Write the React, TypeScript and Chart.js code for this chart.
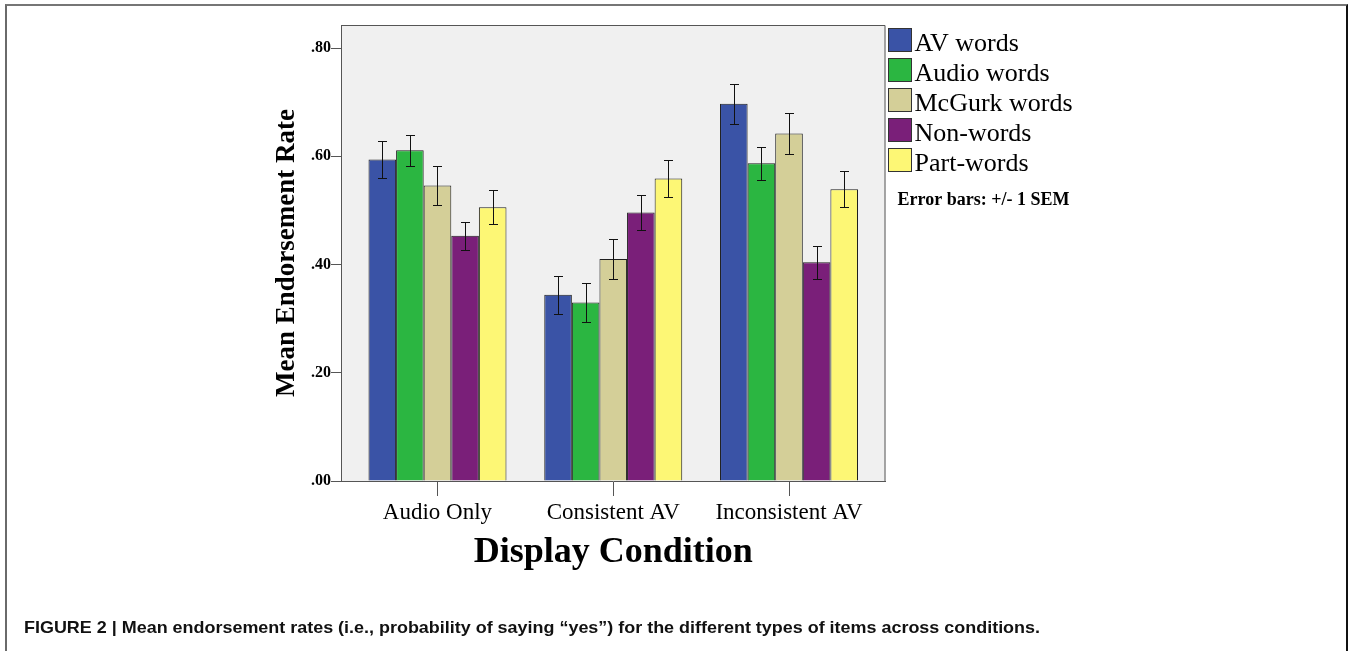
import React, { useEffect, useRef } from 'react';
import { Chart, registerables } from 'chart.js';

Chart.register(...registerables);

// ---------- data ----------
const categories = ['Audio Only', 'Consistent AV', 'Inconsistent AV'];
const seriesNames = ['AV words', 'Audio words', 'McGurk words', 'Non-words', 'Part-words'];

const avWords = [0.594, 0.344, 0.697];
const audioWords = [0.611, 0.330, 0.587];
const mcgurkWords = [0.546, 0.410, 0.642];
const nonWords = [0.453, 0.496, 0.404];
const partWords = [0.506, 0.559, 0.539];

const avWordsSem = [0.035, 0.035, 0.037];
const audioWordsSem = [0.029, 0.036, 0.031];
const mcgurkWordsSem = [0.036, 0.037, 0.037];
const nonWordsSem = [0.026, 0.032, 0.031];
const partWordsSem = [0.031, 0.034, 0.033];

const yTickValues = [0, 0.2, 0.4, 0.6, 0.8];

const seriesMeans = [avWords, audioWords, mcgurkWords, nonWords, partWords];
const seriesSems = [avWordsSem, audioWordsSem, mcgurkWordsSem, nonWordsSem, partWordsSem];
const seriesColors = ['#3a53a6', '#2bb641', '#d4cf98', '#7a1f79', '#fdf775'];

const SERIF = '"Liberation Serif", "Times New Roman", Times, serif';

const decorPlugin = {
  id: 'spssDecor',
  beforeDraw(chart: any) {
    const { ctx, chartArea: a } = chart;
    ctx.save();
    ctx.fillStyle = '#f0f0f0';
    ctx.fillRect(a.left, a.top, a.right - a.left, a.bottom - a.top);
    ctx.restore();
  },
  afterDatasetsDraw(chart: any) {
    const { ctx, chartArea: a } = chart;
    const yScale = chart.scales.y;
    ctx.save();
    ctx.strokeStyle = '#111';
    ctx.lineWidth = 1;
    chart.data.datasets.forEach((ds: any, di: number) => {
      const meta = chart.getDatasetMeta(di);
      meta.data.forEach((bar: any, i: number) => {
        const m = ds.data[i].y;
        const e = ds.sem[i];
        const x = Math.round(bar.x) + 0.5;
        const yHi = Math.round(yScale.getPixelForValue(m + e)) + 0.5;
        const yLo = Math.round(yScale.getPixelForValue(m - e)) + 0.5;
        ctx.beginPath();
        ctx.moveTo(x, yHi);
        ctx.lineTo(x, yLo);
        ctx.moveTo(x - 4.5, yHi);
        ctx.lineTo(x + 4.5, yHi);
        ctx.moveTo(x - 4.5, yLo);
        ctx.lineTo(x + 4.5, yLo);
        ctx.stroke();
      });
    });
    ctx.strokeStyle = '#555';
    ctx.beginPath();
    ctx.moveTo(a.left, a.top + 0.5);
    ctx.lineTo(a.right - 0.5, a.top + 0.5);
    ctx.lineTo(a.right - 0.5, a.bottom);
    ctx.stroke();
    ctx.restore();
  },
  afterDraw(chart: any) {
    const { ctx, chartArea: a } = chart;
    ctx.save();
    const x0 = Math.round(a.right) + 2.5;
    const y0 = a.top + 3.5;
    chart.data.datasets.forEach((ds: any, i: number) => {
      const yy = y0 + i * 30;
      ctx.fillStyle = ds.backgroundColor;
      ctx.fillRect(x0, yy, 23, 23);
      ctx.strokeStyle = '#333';
      ctx.lineWidth = 1;
      ctx.strokeRect(x0, yy, 23, 23);
      ctx.fillStyle = '#000';
      ctx.font = `26px ${SERIF}`;
      ctx.textBaseline = 'alphabetic';
      ctx.textAlign = 'left';
      ctx.fillText(ds.label, x0 + 26, yy + 22);
    });
    ctx.font = `bold 18px ${SERIF}`;
    ctx.fillStyle = '#000';
    ctx.fillText('Error bars: +/- 1 SEM', a.right + 12, 205);
    ctx.restore();
  },
};

export default function App() {
  const ref = useRef<HTMLCanvasElement>(null);

  useEffect(() => {
    const canvas = ref.current;
    if (!canvas) return;
    const datasets = seriesNames.map((name, s) => ({
      label: name,
      data: seriesMeans[s].map((y, i) => ({ x: i, y })),
      sem: seriesSems[s],
      backgroundColor: seriesColors[s],
      borderColor: '#1e1e1e',
      borderWidth: 1,
      categoryPercentage: 0.785,
      barPercentage: 1,
    }));

    const chart = new Chart(canvas, {
      type: 'bar',
      data: { datasets } as any,
      plugins: [decorPlugin],
      options: {
        responsive: false,
        animation: false,
        devicePixelRatio: 1,
        layout: { padding: { left: 271, top: 25, right: 463.5, bottom: 0 } },
        plugins: {
          legend: { display: false },
          tooltip: { enabled: false },
        },
        scales: {
          x: {
            type: 'linear',
            min: -0.549,
            max: 2.549,
            offset: false,
            afterBuildTicks: (s: any) => {
              s.ticks = categories.map((_, i) => ({ value: i }));
            },
            afterFit: (s: any) => {
              s.height = 119;
            },
            ticks: {
              autoSkip: false,
              maxRotation: 0,
              minRotation: 0,
              padding: 3,
              color: '#000',
              font: { family: SERIF, size: 23 },
              callback: (v: any) => categories[Number(v)] ?? '',
            },
            grid: {
              display: true,
              offset: false,
              drawOnChartArea: false,
              drawTicks: true,
              tickLength: 15,
              color: '#555',
            },
            border: { display: true, color: '#555', width: 1 },
            title: {
              display: true,
              text: 'Display Condition',
              color: '#000',
              font: { family: SERIF, size: 36, weight: 'bold' },
              padding: { top: 0, bottom: 26 },
            },
          },
          y: {
            type: 'linear',
            min: 0,
            max: 0.8425,
            afterBuildTicks: (s: any) => {
              s.ticks = yTickValues.map((v) => ({ value: v }));
            },
            afterFit: (s: any) => {
              s.width = 70;
            },
            ticks: {
              padding: 0,
              color: '#000',
              font: { family: SERIF, size: 16, weight: 'bold' },
              callback: (v: any) => Number(v).toFixed(2).replace(/^0/, ''),
            },
            grid: {
              display: true,
              drawOnChartArea: false,
              drawTicks: true,
              tickLength: 10,
              color: '#555',
            },
            border: { display: true, color: '#555', width: 1 },
            title: {
              display: true,
              text: 'Mean Endorsement Rate',
              color: '#000',
              font: { family: SERIF, size: 27, weight: 'bold' },
              padding: 0,
            },
          },
        },
      } as any,
    });
    return () => chart.destroy();
  }, []);

  return (
    <div
      style={{
        position: 'absolute',
        left: 0,
        top: 0,
        width: 1349,
        height: 651,
        background: '#fff',
        overflow: 'hidden',
      }}
    >
      <div
        style={{
          position: 'absolute',
          left: 5,
          top: 4,
          width: 1343,
          height: 700,
          boxSizing: 'border-box',
          borderTop: '2px solid #767676',
          borderLeft: '2px solid #6a6a6a',
          borderRight: '2px solid #111',
        }}
      />
      <canvas
        ref={ref}
        width={1349}
        height={600}
        style={{ position: 'absolute', left: 0, top: 0, width: 1349, height: 600 }}
      />
      <svg
        width={1349}
        height={651}
        style={{ position: 'absolute', left: 0, top: 0, pointerEvents: 'none' }}
      >
        <text
          x={24}
          y={633}
          fontFamily='"Liberation Sans", Arial, sans-serif'
          fontWeight="bold"
          fontSize={16.5}
          fill="#111"
          textLength={1016}
          lengthAdjust="spacingAndGlyphs"
        >
          FIGURE 2 | Mean endorsement rates (i.e., probability of saying “yes”) for the different types of items across conditions.
        </text>
      </svg>
    </div>
  );
}
